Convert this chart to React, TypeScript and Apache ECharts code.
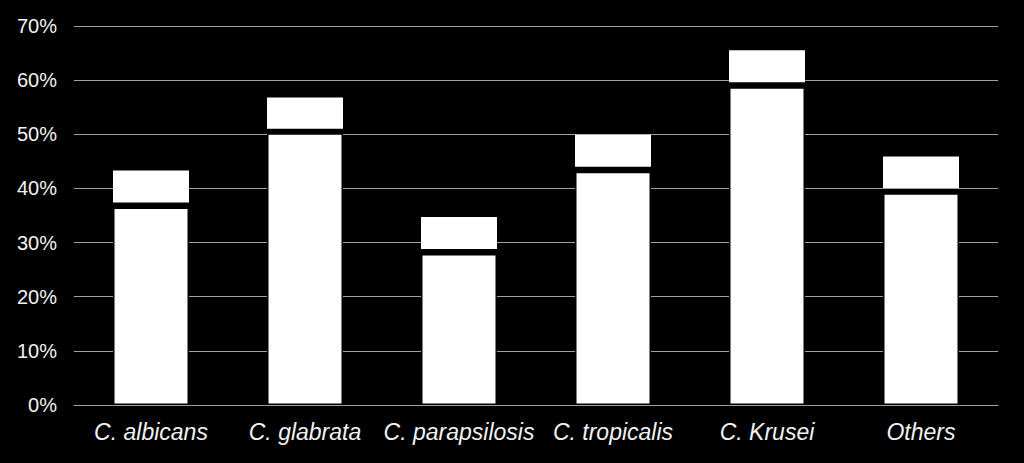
import React, { useEffect, useRef } from "react";
import * as echarts from "echarts";

const categories = ["C. albicans", "C. glabrata", "C. parapsilosis", "C. tropicalis", "C. Krusei", "Others"];
// top of the lower white segment (%)
const lowerValues = [36.5, 50.2, 27.9, 43.1, 58.7, 39.1];
// bottom of the upper white segment (%)
const upperStartValues = [37.4, 51.0, 28.8, 44.0, 59.6, 40.0];
// top of the bar (%)
const totalValues = [43.3, 56.8, 34.7, 49.9, 65.5, 45.9];
const yTicks = [0, 10, 20, 30, 40, 50, 60, 70];

export default function App() {
  const ref = useRef<HTMLDivElement>(null);
  useEffect(() => {
    if (!ref.current) return;
    const chart = echarts.init(ref.current, null, { renderer: "svg" });
    const gap = upperStartValues.map((v, i) => +(v - lowerValues[i]).toFixed(2));
    const upper = totalValues.map((v, i) => +(v - upperStartValues[i]).toFixed(2));
    chart.setOption({
      animation: false,
      backgroundColor: "#000000",
      grid: { left: 74, right: 26, top: 26, bottom: 58 },
      xAxis: {
        type: "category",
        data: categories,
        axisLine: { show: true, lineStyle: { color: "#a0a0a0", width: 1 } },
        axisTick: { show: false },
        axisLabel: {
          color: "#f2f2f2",
          fontSize: 23,
          fontStyle: "italic",
          fontFamily: "Liberation Sans, Arial, sans-serif",
          margin: 15,
          interval: 0,
        },
      },
      yAxis: {
        type: "value",
        min: yTicks[0],
        max: yTicks[yTicks.length - 1],
        interval: 10,
        axisLine: { show: false },
        axisTick: { show: false },
        splitLine: { show: true, lineStyle: { color: "#a0a0a0", width: 1 } },
        axisLabel: {
          color: "#f2f2f2",
          fontSize: 20,
          fontFamily: "Liberation Sans, Arial, sans-serif",
          margin: 17,
          formatter: (v: number) => v + "%",
        },
      },
      series: [
        {
          type: "bar",
          stack: "s",
          data: lowerValues,
          barWidth: 76,
          itemStyle: { color: "#ffffff", borderColor: "#000000", borderWidth: 1.5 },
        },
        {
          type: "bar",
          stack: "s",
          data: gap,
          barWidth: 76,
          itemStyle: { color: "#000000" },
        },
        {
          type: "bar",
          stack: "s",
          data: upper,
          barWidth: 76,
          itemStyle: { color: "#ffffff" },
        },
      ],
    });
    return () => chart.dispose();
  }, []);
  return <div ref={ref} style={{ width: 1024, height: 463, position: "fixed", left: 0, top: 0 }} />;
}
